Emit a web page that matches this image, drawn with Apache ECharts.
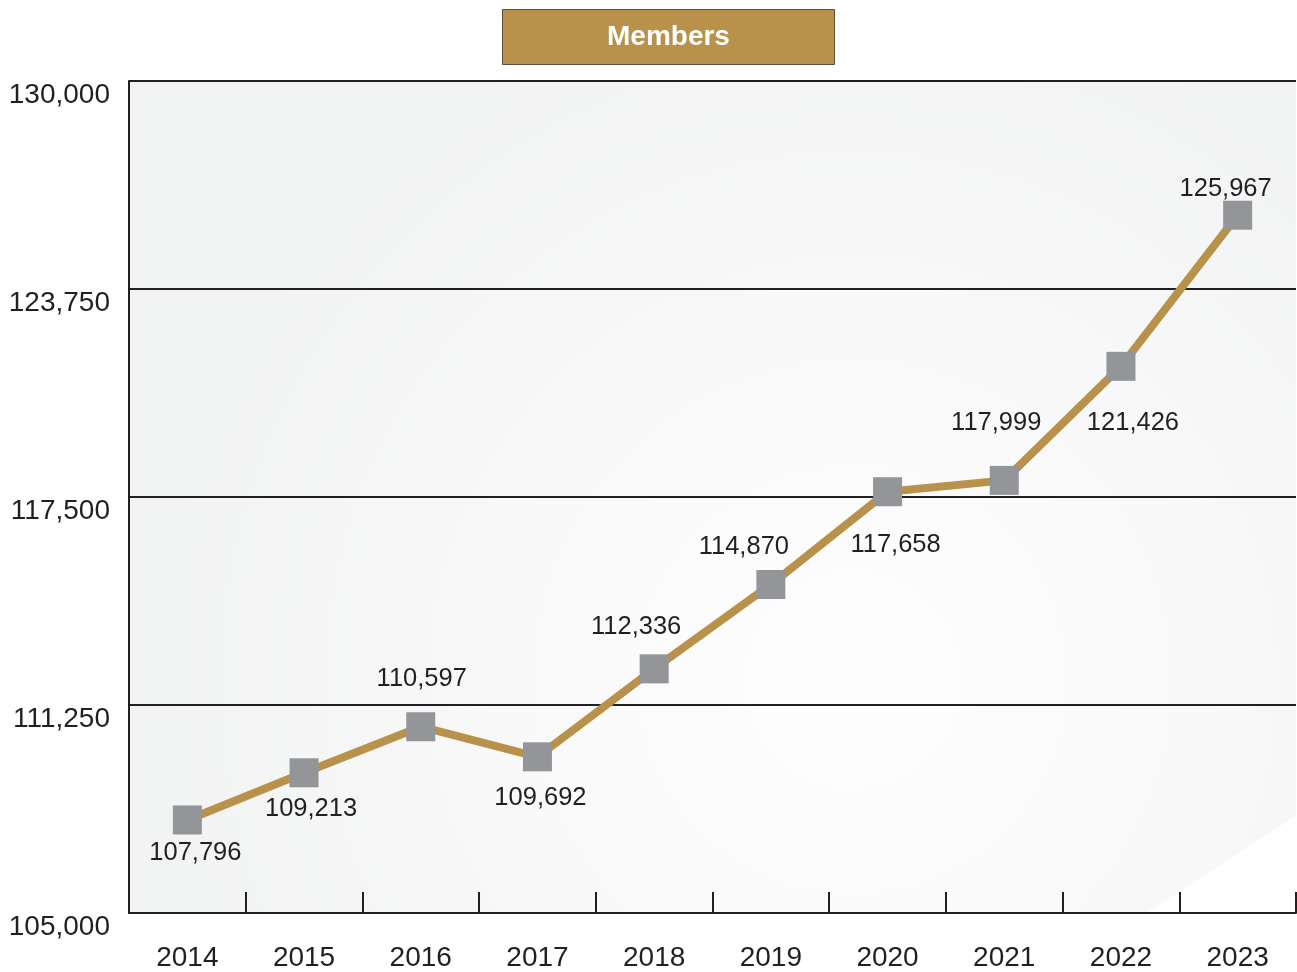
<!DOCTYPE html>
<html>
<head>
<meta charset="utf-8">
<script src="https://cdn.jsdelivr.net/npm/echarts@6/dist/echarts.min.js"></script>
<style>
  html, body { margin: 0; padding: 0; background: #fff; }
  #chart { width: 1297px; height: 972px; }
</style>
</head>
<body>
<div id="chart"></div>
<script>
var years = ['2014', '2015', '2016', '2017', '2018', '2019', '2020', '2021', '2022', '2023'];
var members = [107796, 109213, 110597, 109692, 112336, 114870, 117658, 117999, 121426, 125967];
var yTicks = [105000, 111250, 117500, 123750, 130000];

// where each value label sits relative to its marker (px)
var labelShift = [[8, 33], [7, 36], [1, -48], [3, 41], [-18, -42], [-27, -38], [8, 53], [-8, -57], [12, 57], [-12, -26]];

var fmt = function (v) { return Number(v).toLocaleString('en-US'); };
var font = '"Liberation Sans", Arial, sans-serif';

var chart = echarts.init(document.getElementById('chart'));
var option = {
    backgroundColor: '#fff',
    animation: false,
    title: {
        text: 'Members',
        left: 502,
        top: 9,
        padding: [12, 105, 12, 105],
        backgroundColor: '#b8914a',
        borderColor: '#5e5040',
        borderWidth: 1,
        textStyle: {
            color: '#fff',
            fontFamily: font,
            fontWeight: 'bold',
            fontSize: 28,
            lineHeight: 32
        }
    },
    grid: {
        left: 129,
        right: 1,
        top: 81,
        bottom: 59,
        show: true,
        borderWidth: 0,
        backgroundColor: {
            type: 'radial', x: 0.62, y: 0.72, r: 0.85,
            colorStops: [
                {offset: 0, color: '#fefefe'},
                {offset: 0.55, color: '#f8f8f8'},
                {offset: 1, color: '#f2f3f3'}
            ]
        }
    },
    graphic: [{
        type: 'polygon',
        z: 1,
        silent: true,
        shape: { points: [[1297, 815], [1148, 912], [1297, 912]] },
        style: { fill: '#fff' }
    }],
    xAxis: {
        type: 'category',
        data: years,
        boundaryGap: true,
        z: 3,
        axisLine: { show: true, lineStyle: { color: '#231f20', width: 2 } },
        axisTick: { show: true, inside: true, length: 21, interval: 0, lineStyle: { color: '#231f20', width: 2 } },
        axisLabel: { color: '#231f20', fontFamily: font, fontSize: 28, margin: 31, interval: 0 },
        splitLine: { show: false }
    },
    yAxis: {
        type: 'value',
        min: yTicks[0],
        max: yTicks[yTicks.length - 1],
        interval: yTicks[1] - yTicks[0],
        z: 3,
        axisLine: { show: true, lineStyle: { color: '#231f20', width: 2 } },
        axisTick: { show: false },
        axisLabel: {
            color: '#231f20', fontFamily: font, fontSize: 28, margin: 19,
            verticalAlign: 'top',
            formatter: fmt
        },
        splitLine: { show: true, lineStyle: { color: '#231f20', width: 2 } }
    },
    series: [{
        type: 'line',
        z: 4,
        data: members.map(function (v, i) {
            return {
                value: v,
                label: { offset: labelShift[i] }
            };
        }),
        lineStyle: { color: '#b8914a', width: 8 },
        itemStyle: { color: '#939598' },
        symbol: 'rect',
        symbolSize: 29,
        showAllSymbol: true,
        label: {
            show: true,
            position: 'inside',
            color: '#231f20',
            fontFamily: font,
            fontSize: 25.5,
            formatter: function (p) { return fmt(p.value); }
        }
    }]
};
chart.setOption(option);
</script>
</body>
</html>
